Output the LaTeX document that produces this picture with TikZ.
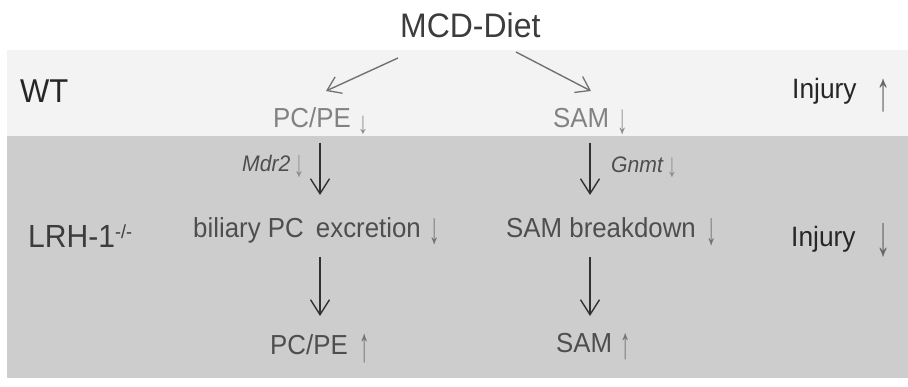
\documentclass[tikz,border=0pt]{standalone}
\usepackage{fontspec}
\usepackage{graphicx}
\setmainfont{Liberation Sans}[FakeStretch=0.94]
\usetikzlibrary{arrows.meta}
\definecolor{bandlight}{HTML}{F3F3F3}
\definecolor{banddark}{HTML}{CDCDCD}
\definecolor{txtdark}{HTML}{262626}
\definecolor{txtwt}{HTML}{828282}
\definecolor{txtlrh}{HTML}{4E4E4E}
\definecolor{smallarr}{HTML}{8C8C8C}
\newcommand\tallglyph[2]{\scalebox{1}[#1]{#2}}
\begin{document}
\begin{tikzpicture}[x=1pt,y=-1pt,
  base/.style={inner sep=0pt, anchor=base west},
  title/.style={base, text=txtdark!90!white, font=\fontsize{34}{36}\selectfont},
  geno/.style={base, text=txtdark, font=\fontsize{33}{36}\selectfont},
  lblwt/.style={base, text=txtwt, font=\fontsize{27.5}{30}\selectfont},
  lbllrh/.style={base, text=txtlrh, font=\fontsize{27.5}{30}\selectfont},
  inj/.style={base, text=txtdark, font=\fontsize{28}{30}\selectfont},
  gene/.style={base, text=txtlrh, font=\fontsize{22.5}{24}\selectfont\itshape},
  sarr/.style={inner sep=0pt, anchor=center, text=smallarr, font=\fontsize{22}{24}\selectfont},
  barr/.style={inner sep=0pt, anchor=center, text=txtdark!70!white, font=\fontsize{30}{32}\selectfont},
  bigarrow/.style={draw=txtdark!95!white, line width=1.5pt,
    -{Straight Barb[length=15pt,width=19pt,line width=1.4pt]}},
  diagarrow/.style={draw=txtdark!65!white, line width=1.4pt,
    -{Straight Barb[length=13pt,width=18pt,line width=1.3pt]}}
]
\useasboundingbox (0,0) rectangle (908,387);
\fill[bandlight] (7,50) rectangle (908,136);
\fill[banddark] (7,136) rectangle (908,378);

% top
\node[title] (diet) at (400,38) {MCD-Diet};
% WT row
\node[geno] (wt) at (20,103) {WT};
\node[lblwt] (pcwt) at (273,128) {PC/PE};
\node[sarr] (pcwtarr) at (363,125) {\tallglyph{1.4}{↓}};
\node[lblwt] (samwt) at (553,128) {SAM};
\node[sarr] (samwtarr) at (623,122.5) {\tallglyph{1.9}{↓}};
\node[inj] (injwt) at (792,99) {Injury};
\node[barr] (injwtarr) at (884,95.5) {\tallglyph{1.85}{↑}};
% LRH row
\node[gene] (mdr) at (242,172) {Mdr2};
\node[sarr] (mdrarr) at (299,166.5) {\tallglyph{1.7}{↓}};
\node[gene] (gnmt) at (611,173) {Gnmt};
\node[sarr] (gnmtarr) at (672,167.5) {\tallglyph{1.5}{↓}};
\node[geno, font=\fontsize{32}{34}\selectfont, text=txtdark!90!white] (lrh) at (28,248)
  {LRH-1\raisebox{9pt}{\fontsize{19}{20}\selectfont -/-}};
\node[lbllrh] (bil) at (193,238) {biliary PC\hspace{5pt} excretion};
\node[sarr, text=txtlrh!80!white] (bilarr) at (435,232) {\tallglyph{2}{↓}};
\node[lbllrh] (sambr) at (506,238) {SAM breakdown};
\node[sarr, text=txtlrh!80!white] (sambrarr) at (712,232.5) {\tallglyph{2.1}{↓}};
\node[inj] (injlrh) at (791,247) {Injury};
\node[barr] (injlrharr) at (884,240) {\tallglyph{1.9}{↓}};
\node[lbllrh] (pclrh) at (270,355) {PC/PE};
\node[sarr, text=txtlrh!80!white] (pclrharr) at (365,349) {\tallglyph{2.2}{↑}};
\node[lbllrh] (samlrh) at (556,353) {SAM};
\node[sarr, text=txtlrh!80!white] (samlrharr) at (626,347) {\tallglyph{2}{↑}};

% connectors
\draw[diagarrow] ([shift={(-2,20)}]diet.base west) -- ([shift={(53,-37)}]pcwt.base west);
\draw[diagarrow] ([shift={(116,14)}]diet.base west) -- ([shift={(38,-37)}]samwt.base west);
\draw[bigarrow] ([shift={(47,15)}]pcwt.base west) -- ([shift={(127,-43)}]bil.base west);
\draw[bigarrow] ([shift={(37,15)}]samwt.base west) -- ([shift={(84,-43)}]sambr.base west);
\draw[bigarrow] ([shift={(127,19)}]bil.base west) -- ([shift={(50,-39)}]pclrh.base west);
\draw[bigarrow] ([shift={(84,19)}]sambr.base west) -- ([shift={(34,-37)}]samlrh.base west);
\end{tikzpicture}
\end{document}
